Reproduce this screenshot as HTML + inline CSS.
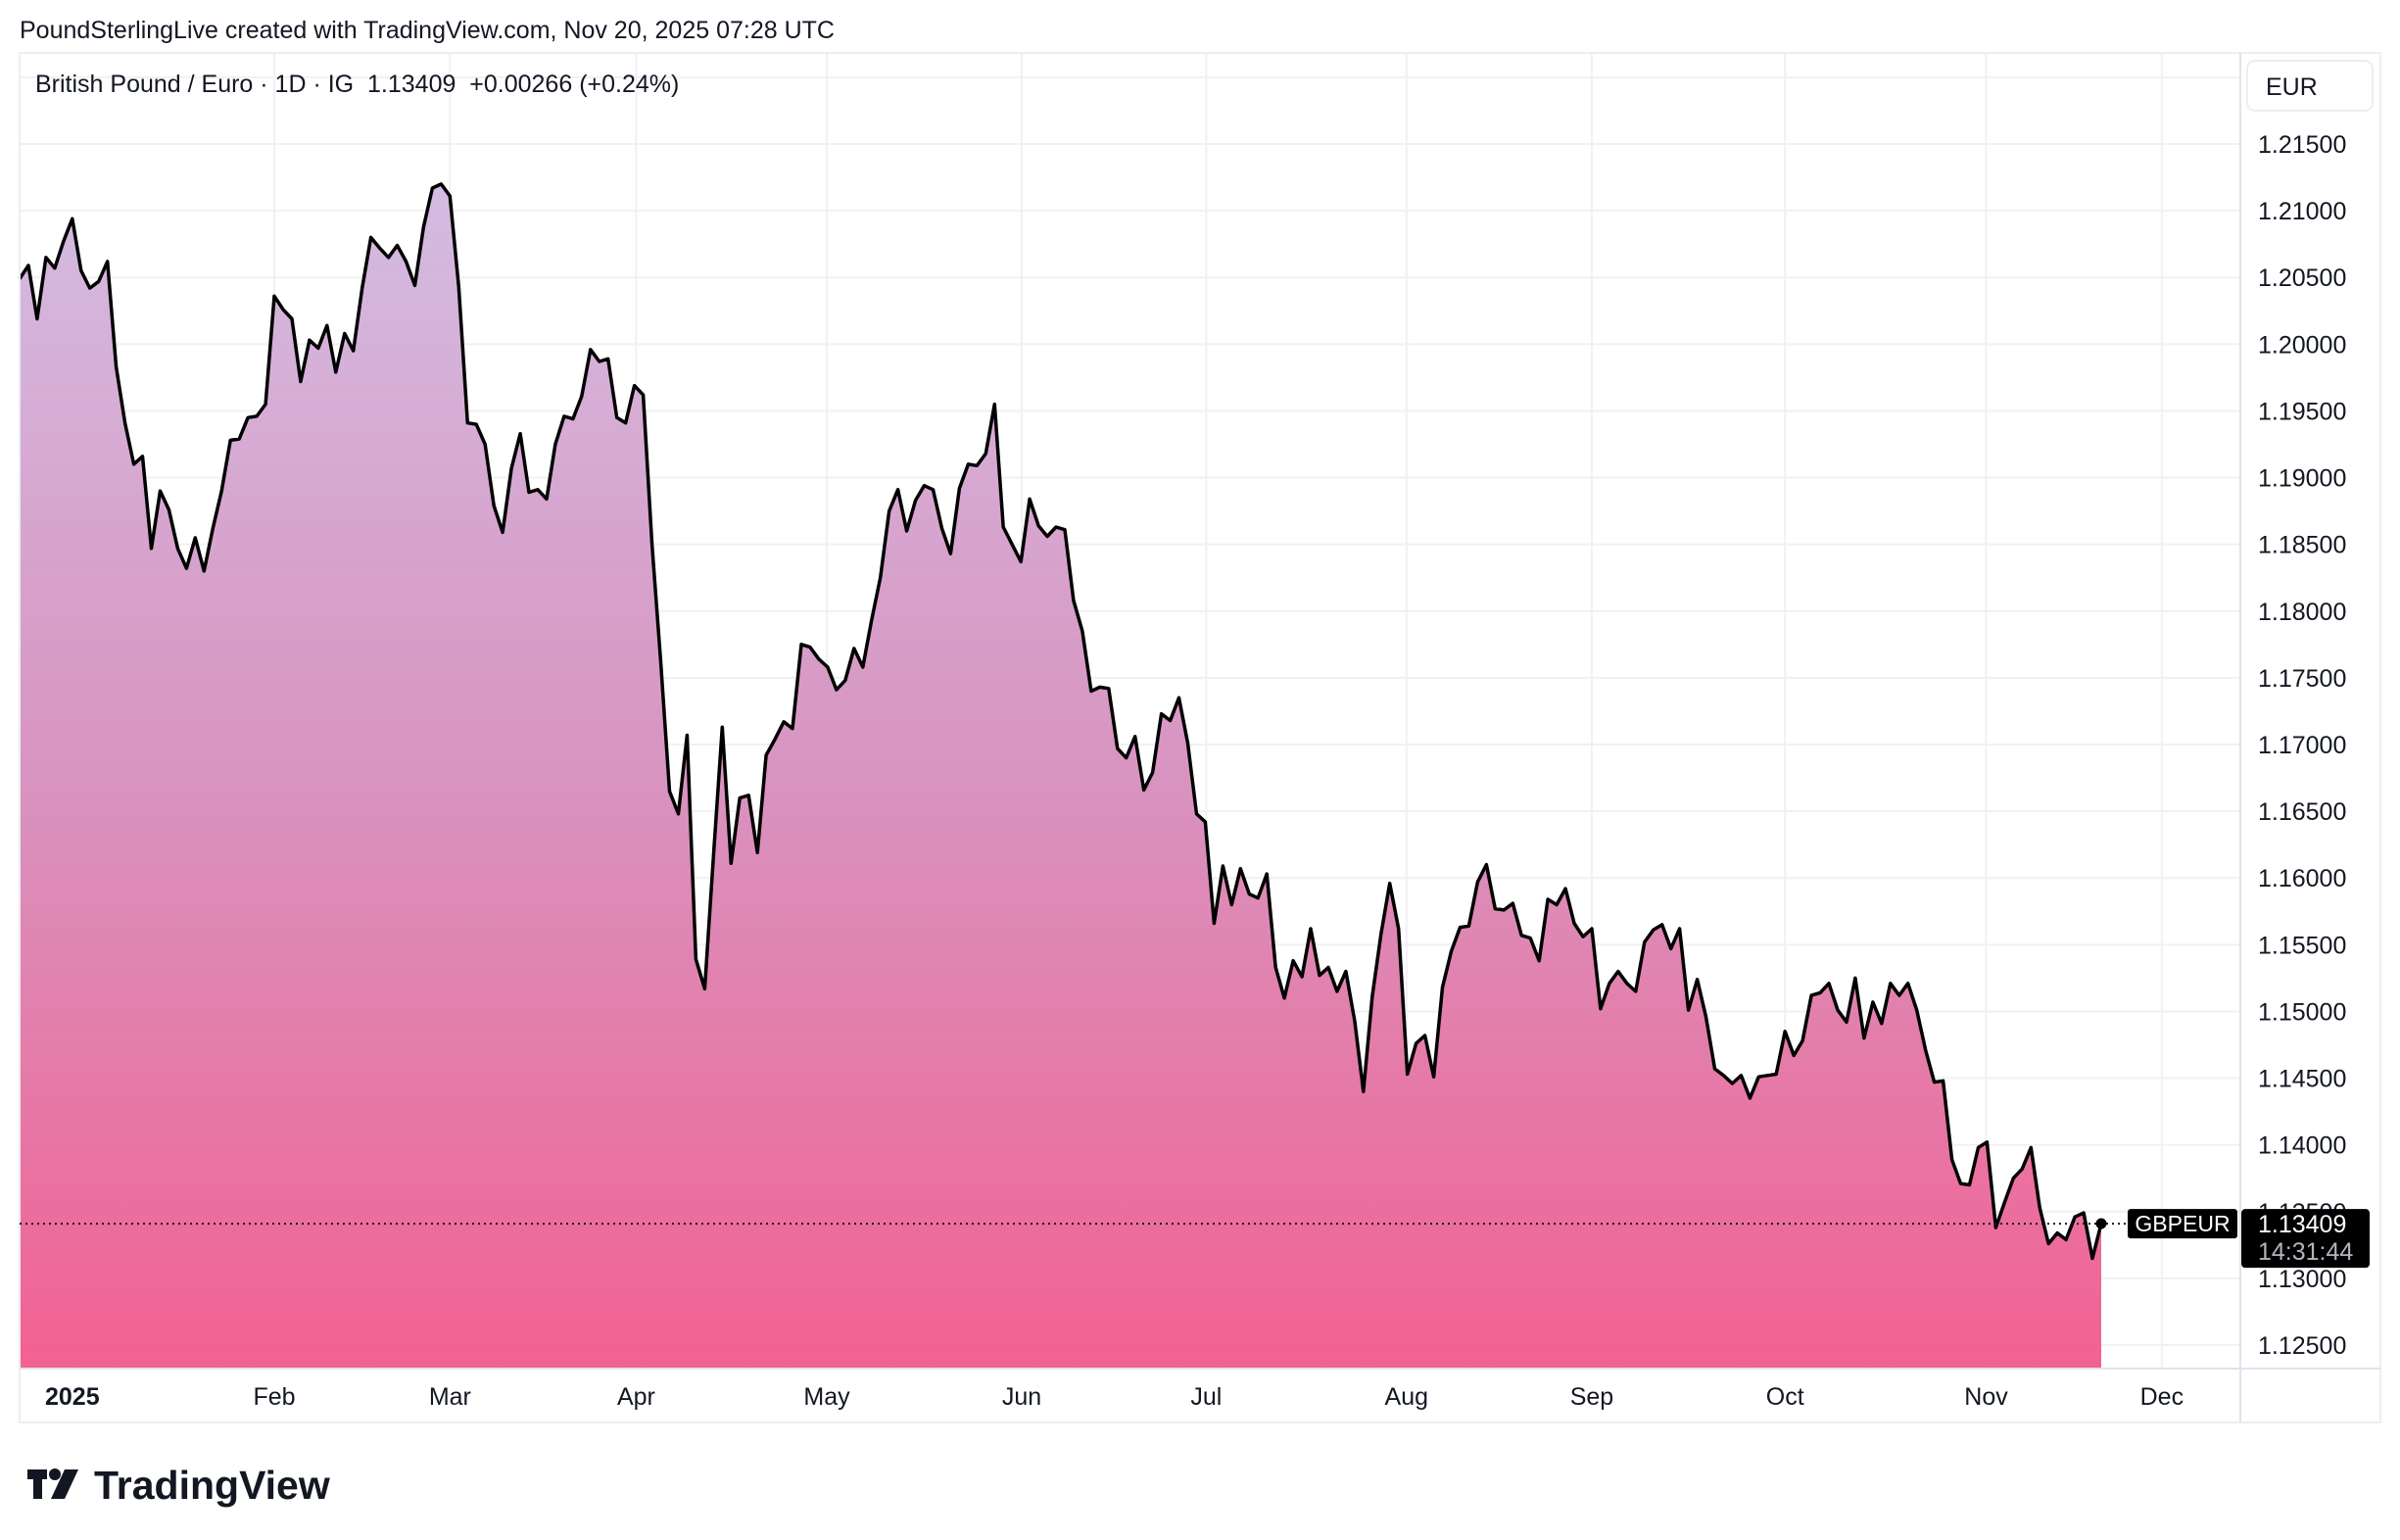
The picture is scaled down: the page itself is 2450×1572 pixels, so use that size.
<!DOCTYPE html>
<html><head><meta charset="utf-8"><style>
body{margin:0;background:#fff;width:2450px;height:1572px;overflow:hidden;font-family:"Liberation Sans",sans-serif;}
svg{display:block}
</style></head><body>
<svg id="c" width="2450" height="1572" xmlns="http://www.w3.org/2000/svg">
<defs><linearGradient id="g" x1="0" y1="0" x2="0" y2="1">
<stop offset="0" stop-color="#d4bce2"/><stop offset="0.5" stop-color="#d894c0"/><stop offset="1" stop-color="#f26191"/></linearGradient></defs>
<text x="20" y="39" font-size="25" fill="#131722">PoundSterlingLive created with TradingView.com, Nov 20, 2025 07:28 UTC</text>
<g id="grid"></g>
<g id="plot"></g>
<rect x="20" y="54" width="2410" height="1398" fill="none" stroke="#eceef2" stroke-width="2"/>
<line x1="2287" y1="54" x2="2287" y2="1452" stroke="#e0e3eb" stroke-width="2"/>
<line x1="20" y1="1397" x2="2430" y2="1397" stroke="#e0e3eb" stroke-width="2"/>
<text x="36" y="94" font-size="25" fill="#131722" xml:space="preserve">British Pound / Euro · 1D · IG  1.13409  +0.00266 (+0.24%)</text>
<rect x="2294" y="62" width="128" height="51" rx="8" fill="#fff" stroke="#eceef2" stroke-width="2"/>
<text x="2313" y="97" font-size="25" fill="#131722">EUR</text>
<g id="yax"></g>
<g id="xax"></g>
<g id="last"></g>
<g>
<rect x="28" y="1500" width="20" height="10" fill="#131722"/><rect x="34" y="1500" width="9" height="30" fill="#131722"/>
<circle cx="56" cy="1505" r="6" fill="#131722"/><polygon points="66,1500 80,1500 66,1530 52,1530" fill="#131722"/>
<text x="96" y="1530" font-size="41" font-weight="bold" fill="#131722">TradingView</text></g>
</svg>
<script>
const values=[12049,12059,12019,12065,12057,12077,12094,12055,12042,12047,12062,11983,11941,11910,11916,11847,11890,11876,11847,11832,11855,11830,11862,11890,11928,11929,11945,11946,11955,12036,12026,12019,11972,12003,11997,12014,11979,12008,11995,12042,12080,12072,12065,12074,12062,12044,12088,12117,12120,12111,12043,11941,11940,11925,11879,11859,11907,11933,11889,11891,11884,11925,11946,11944,11961,11996,11987,11989,11945,11941,11969,11962,11850,11762,11665,11648,11707,11539,11517,11616,11713,11611,11660,11662,11619,11692,11704,11717,11712,11775,11773,11764,11758,11741,11748,11772,11758,11793,11825,11875,11891,11860,11883,11894,11891,11862,11843,11892,11910,11909,11918,11955,11863,11850,11837,11884,11864,11856,11863,11861,11808,11785,11740,11743,11742,11697,11690,11706,11666,11679,11723,11718,11735,11701,11648,11642,11566,11609,11580,11607,11588,11585,11603,11533,11510,11538,11526,11562,11527,11533,11515,11530,11493,11440,11511,11558,11596,11562,11453,11476,11482,11451,11518,11545,11563,11564,11597,11610,11577,11576,11581,11557,11555,11538,11584,11580,11592,11566,11556,11562,11502,11521,11530,11521,11515,11552,11561,11565,11547,11562,11501,11524,11496,11457,11452,11446,11452,11435,11451,11452,11453,11485,11467,11478,11512,11514,11521,11501,11492,11525,11480,11507,11491,11521,11512,11521,11501,11471,11447,11448,11389,11371,11370,11398,11402,11338,11357,11375,11382,11398,11353,11326,11334,11329,11346,11349,11315,11341].map(v=>v/10000);
const priceTicks=[1.215,1.21,1.205,1.2,1.195,1.19,1.185,1.18,1.175,1.17,1.165,1.16,1.155,1.15,1.145,1.14,1.135,1.13,1.125];
const monthLabels=["2025","Feb","Mar","Apr","May","Jun","Jul","Aug","Sep","Oct","Nov","Dec"];
const monthIdx=[6.0,29.0,49.0,70.2,91.9,114.1,135.1,157.9,179.0,201.0,223.9,243.9];
const lastPrice=1.13409;
const NS="http://www.w3.org/2000/svg";
const X0=20,X1=2145,PB=1397,PT=54,PR=2287;
const dx=(X1-X0)/(values.length-1);
const xs=i=>X0+i*dx;
const ys=v=>1373-(v-1.125)*(1226/0.09);
function mk(t,a,p){const e=document.createElementNS(NS,t);for(const k in a)e.setAttribute(k,a[k]);p.appendChild(e);return e;}
const grid=document.getElementById('grid'),plot=document.getElementById('plot'),yax=document.getElementById('yax'),xax=document.getElementById('xax'),last=document.getElementById('last');
for(let k=-1;k<priceTicks.length;k++){const v=k<0?1.22:priceTicks[k];const y=ys(v);if(y<PT)continue;
 const l=mk('line',{x1:X0,x2:PR,y1:y,y2:y,stroke:'#f0f1f4','stroke-width':2},grid);
 
 
 if(k<0)continue;
 const t=mk('text',{x:2305,y:y+9,'font-size':25,fill:'#131722'},yax);t.textContent=v.toFixed(5);
 
 }
monthIdx.forEach((m,i)=>{const x=xs(m);
 if(i>0){const l=mk('line',{x1:x,x2:x,y1:PT,y2:PB,stroke:'#f0f1f4','stroke-width':2},grid);
 
 }
 const t=mk('text',{x:x,y:1434,'font-size':25,fill:'#131722','text-anchor':'middle','font-weight':i==0?'bold':'normal'},xax);t.textContent=monthLabels[i];
 
 });
let d='';values.forEach((v,i)=>{d+=(i?'L':'M')+xs(i).toFixed(1)+','+ys(v).toFixed(1);});
const area=mk('path',{d:d+'L'+xs(values.length-1)+','+PB+'L'+X0+','+PB+'Z',fill:'url(#g)'},plot);


const line=mk('path',{d:d,fill:'none',stroke:'#000','stroke-width':3.5,'stroke-linejoin':'round'},plot);


const ly=ys(lastPrice);
const dl=mk('line',{x1:X0,x2:PR,y1:ly,y2:ly,stroke:'#131722','stroke-width':2,'stroke-dasharray':'2 4'},last);


const dot=mk('circle',{cx:xs(values.length-1),cy:ys(values[values.length-1]),r:5.5,fill:'#000'},last);


const sb=mk('rect',{x:2172,y:ly-15,width:112,height:30,rx:3,fill:'#000'},last);


const st=mk('text',{x:2228,y:ly+8,'font-size':23,fill:'#fff','text-anchor':'middle'},last);st.textContent='GBPEUR';


const pb=mk('rect',{x:2288,y:ly-15,width:131,height:60,rx:4,fill:'#000'},last);


const pt=mk('text',{x:2305,y:ly+9,'font-size':25,fill:'#fff'},last);pt.textContent=lastPrice.toFixed(5);


const ct=mk('text',{x:2305,y:ly+37,'font-size':25,fill:'#b2b5be'},last);ct.textContent='14:31:44';


</script>
</body></html>
